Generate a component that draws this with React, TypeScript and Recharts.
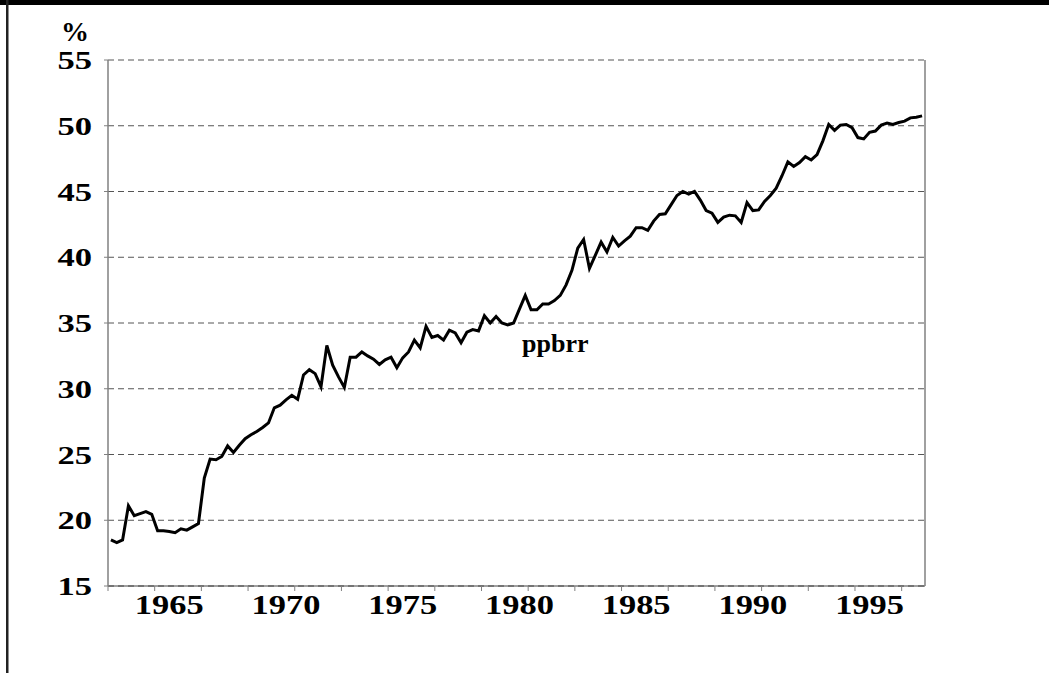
import React from "react";
import { LineChart, Line, XAxis, YAxis, CartesianGrid } from "recharts";

// quarterly series, first point is 1962 Q3
const startYear = 1962;
const startQuarter = 3;

const ppbrr = [
  18.5, 18.3, 18.5, 21.1, 20.35, 20.5, 20.65, 20.45, 19.2, 19.2,
  19.15, 19.05, 19.35, 19.25, 19.5, 19.75, 23.2, 24.65, 24.6, 24.85,
  25.65, 25.15, 25.7, 26.2, 26.5, 26.75, 27.05, 27.4, 28.55, 28.75,
  29.15, 29.5, 29.2, 31.05, 31.45, 31.15, 30.15, 33.3, 31.8, 30.9,
  30.1, 32.4, 32.4, 32.8, 32.5, 32.25, 31.85, 32.2, 32.4, 31.6,
  32.35, 32.8, 33.7, 33.1, 34.75, 33.9, 34.05, 33.7, 34.45, 34.25,
  33.5, 34.3, 34.5, 34.4, 35.55, 35.0, 35.5, 35.0, 34.85, 35.0,
  36.05, 37.1, 36.0, 36.0, 36.45, 36.45, 36.7, 37.1, 37.9, 39.0,
  40.7, 41.35, 39.15, 40.15, 41.15, 40.4, 41.5, 40.85, 41.25, 41.6,
  42.25, 42.25, 42.05, 42.75, 43.25, 43.3, 44.0, 44.7, 45.0, 44.8,
  45.0, 44.35, 43.55, 43.35, 42.65, 43.05, 43.2, 43.15, 42.65, 44.15,
  43.55, 43.6, 44.25, 44.7, 45.25, 46.2, 47.25, 46.9, 47.2, 47.65,
  47.4, 47.8, 48.85, 50.1, 49.65, 50.05, 50.1, 49.85, 49.1, 49.0,
  49.5, 49.6, 50.05, 50.2, 50.1, 50.25, 50.35, 50.6, 50.65, 50.75,
];

const yearLabels = [1965, 1970, 1975, 1980, 1985, 1990, 1995];
const yTicks = [15, 20, 25, 30, 35, 40, 45, 50, 55];
const markEvery = 8; // a tick mark every two years

const quarterCount = ppbrr.length;
const data = ppbrr.map((v, i) => ({ q: i + 0.5, ppbrr: v }));
const labelPos = yearLabels.map(
  (y) => (y - startYear) * 4 - (startQuarter - 1) + 0.5
);
const markPos = Array.from(
  { length: Math.floor((quarterCount - 1) / markEvery) + 1 },
  (_, k) => k * markEvery
);
const xTicks = [...markPos, ...labelPos].sort((a, b) => a - b);

const serif = "'Liberation Serif', 'Times New Roman', serif";

const XTick = (props: any) => {
  const { x, y, payload } = props;
  const li = labelPos.indexOf(payload.value);
  if (li >= 0) {
    return (
      <text
        transform={`translate(${x},${y + 23}) scale(1.23,1)`}
        textAnchor="middle"
        fontFamily={serif}
        fontWeight="bold"
        fontSize={28}
        fill="#000"
      >
        {yearLabels[li]}
      </text>
    );
  }
  return <line x1={x} x2={x} y1={y - 5} y2={y} stroke="#808080" />;
};

const YTick = (props: any) => {
  const { x, y, payload, anchor } = props;
  return (
    <text
      transform={`translate(${x},${y + 9}) scale(1.33,1)`}
      textAnchor={anchor}
      fontFamily={serif}
      fontWeight="bold"
      fontSize={26}
      fill="#000"
    >
      {payload.value}
    </text>
  );
};

export default function App() {
  return (
    <div
      style={{
        position: "absolute",
        left: 0,
        top: 0,
        width: 1049,
        height: 673,
        background: "#fff",
      }}
    >
      <LineChart
        width={1049}
        height={673}
        data={data}
        margin={{ top: 60, right: 0, bottom: 57, left: 0 }}
      >
        <CartesianGrid
          yAxisId="left"
          vertical={false}
          stroke="#555"
          strokeDasharray="6 4"
        />
        <XAxis
          dataKey="q"
          type="number"
          domain={[0, quarterCount]}
          ticks={xTicks}
          interval={0}
          height={30}
          tickSize={5}
          tickMargin={0}
          tickLine={false}
          axisLine={{ stroke: "#404040" }}
          tick={(p: any) => <XTick {...p} />}
        />
        <YAxis
          yAxisId="left"
          orientation="left"
          width={108}
          domain={[15, 55]}
          ticks={yTicks}
          interval={0}
          tickSize={4}
          tickMargin={12}
          axisLine={{ stroke: "#808080", strokeWidth: 1.5 }}
          tickLine={{ stroke: "#808080" }}
          tick={(p: any) => <YTick {...p} anchor="end" />}
        />
        <YAxis
          yAxisId="right"
          orientation="right"
          width={124}
          domain={[15, 55]}
          ticks={yTicks}
          interval={0}
          tickSize={6}
          tickMargin={11}
          axisLine={{ stroke: "#808080", strokeWidth: 1.5 }}
          tickLine={{ stroke: "#808080" }}
          tick={(p: any) => <YTick {...p} anchor="start" />}
        />
        <Line
          yAxisId="left"
          dataKey="ppbrr"
          type="linear"
          stroke="#000"
          strokeWidth={3}
          dot={false}
          isAnimationActive={false}
        />
      </LineChart>
      <svg
        width={1049}
        height={673}
        style={{ position: "absolute", left: 0, top: 0, pointerEvents: "none" }}
      >
        <rect x={0} y={0} width={1049} height={5} fill="#000" />
        <rect x={6} y={0} width={2.5} height={673} fill="#222" />
        <text
          x={61}
          y={41}
          fontFamily={serif}
          fontWeight="bold"
          fontSize={28}
          fill="#000"
        >
          %
        </text>
        <text
          x={522}
          y={352}
          fontFamily={serif}
          fontWeight="bold"
          fontSize={26}
          fill="#000"
        >
          ppbrr
        </text>
      </svg>
    </div>
  );
}
